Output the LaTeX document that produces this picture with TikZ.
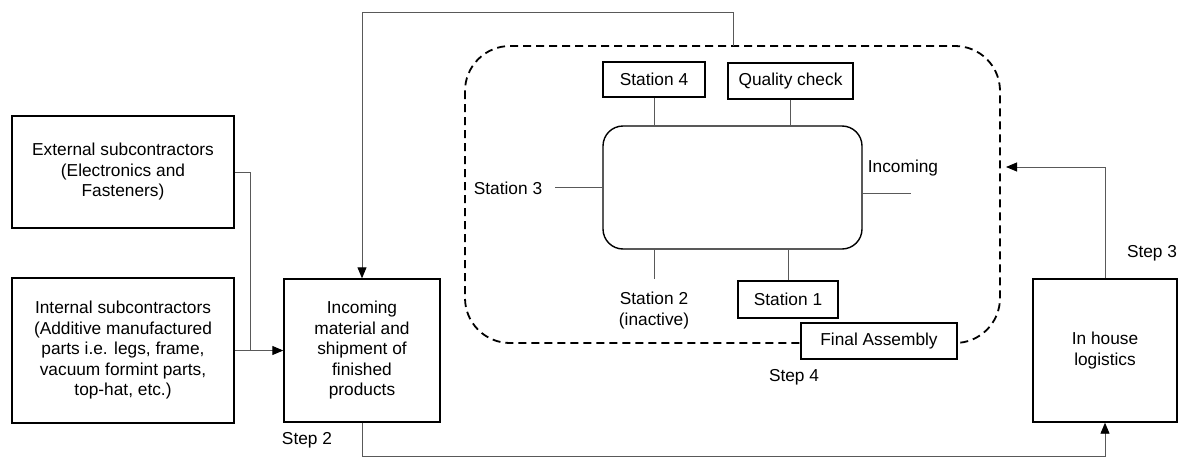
\documentclass[tikz,border=0pt]{standalone}
\usepackage{fontspec}
\setmainfont{Liberation Sans}
\usetikzlibrary{arrows.meta,calc}
\begin{document}
\begin{tikzpicture}[x=1pt,y=-1pt,
  every node/.style={font=\fontsize{17.3}{20.5}\selectfont, inner sep=0pt},
  box/.style={draw=black, line width=1.4pt, fill=white, align=center},
  conn/.style={draw=black!65, line width=0.9pt},
  arr/.style={conn, -{Triangle[length=11pt,width=9pt,fill=black,color=black]}},
  zone/.style={draw=black, line width=1.8pt, dash pattern=on 8pt off 5pt, rounded corners=45pt},
  lbl/.style={align=center}
]
\useasboundingbox (0,0) rectangle (1185,458);

% dashed plant region
\draw[zone] (465,46) rectangle (1000,343);
\coordinate (topout) at (733,46);
\coordinate (zoneR) at (1006,167);

% left boxes
\node[box, minimum width=222pt, minimum height=112pt] (ext) at (123,172)
  {External subcontractors\\(Electronics and\\Fasteners)};
\node[box, minimum width=222pt, minimum height=145pt] (int) at (123,350.5)
  {Internal subcontractors\\(Additive manufactured\\parts i.e. legs, frame,\\vacuum formint parts,\\top-hat, etc.)};
\node[box, minimum width=156pt, minimum height=143pt] (inc) at (362,350.5)
  {Incoming\\material and\\shipment of\\finished\\products};
\node[box, minimum width=144pt, minimum height=143pt] (ih) at (1105,350.5)
  {In house\\logistics};

% inner rounded rectangle
\node[draw=black, line width=1.4pt, rounded corners=20pt, minimum width=259pt, minimum height=123pt] (inner) at (732.5,187.5) {};

% stations
\node[box, minimum width=102pt, minimum height=35pt] (s4) at (654,79.5) {Station 4};
\node[box, minimum width=125pt, minimum height=36pt] (qc) at (790.5,81) {Quality check};
\node[box, minimum width=100pt, minimum height=37pt] (s1) at (788,299.5) {Station 1};
\node[box, minimum width=156pt, minimum height=36pt] (fa) at (879,341) {Final Assembly};
\node[lbl] (s3) at (508,188) {Station 3};
\node[lbl] (incl) at (903,168) {Incoming};
\node[lbl] (s2) at (654,310.5) {Station 2\\(inactive)};
\coordinate (s3end) at (555,187.5);
\coordinate (inend) at (911,193);
\coordinate (s2top) at (654,279);

\draw[conn] (s4.south) -- (s4.south |- inner.north);
\draw[conn] (qc.south) -- (qc.south |- inner.north);
\draw[conn] (s3end) -- (s3end -| inner.west);
\draw[conn] (inner.east |- inend) -- (inend);
\draw[conn] (inner.south -| s2top) -- (s2top);
\draw[conn] (s1.north) -- (s1.north |- inner.south);

% step labels
\node[lbl] (st2) at (307,440) {Step 2};
\node[lbl] (st3) at (1152,253) {Step 3};
\node[lbl] (st4) at (794,377) {Step 4};

% connectors
\coordinate (join) at (250,350.5);
\draw[conn] (ext.east) -| (join);
\draw[arr] (int.east) -- (inc.west);
\draw[arr] (topout) -- ++(0,-34) -| (inc.north);
\draw[arr] (inc.south) -- ++(0,34) -| (ih.south);
\draw[arr] (ih.north) |- (zoneR);
\end{tikzpicture}
\end{document}
